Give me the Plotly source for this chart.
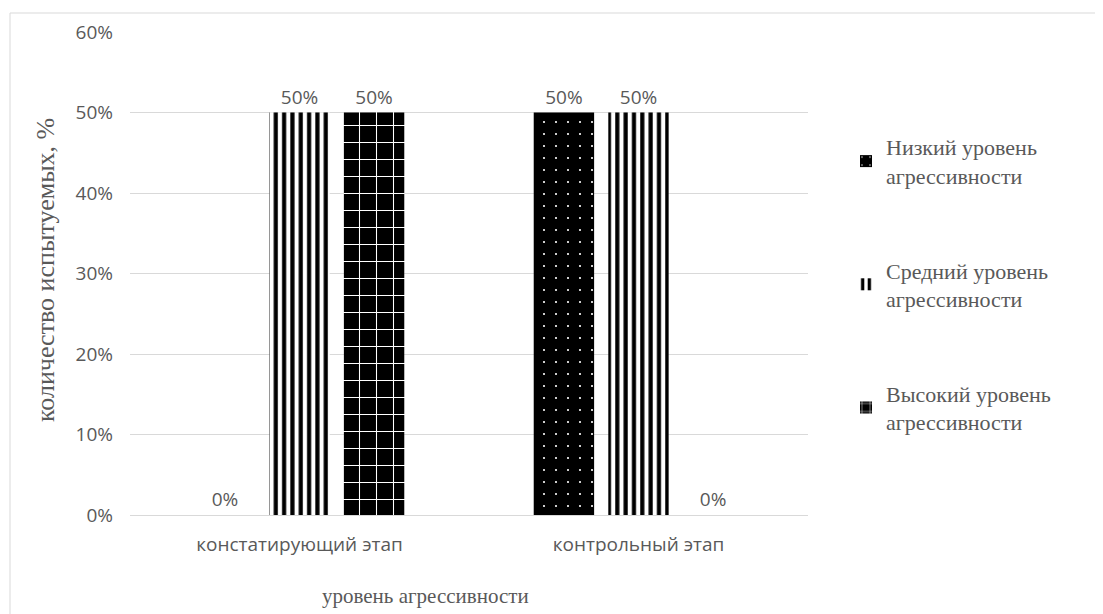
import plotly.graph_objects as go

categories = ["констатирующий этап", "контрольный этап"]
series_names = ["Низкий уровень<br>агрессивности",
                "Средний уровень<br>агрессивности",
                "Высокий уровень<br>агрессивности"]
low_vals = [0.0, 0.5]
mid_vals = [0.5, 0.5]
high_vals = [0.5, 0.0]
y_ticks = [0, 0.1, 0.2, 0.3, 0.4, 0.5, 0.6]
y_ticklabels = ["0%", "10%", "20%", "30%", "40%", "50%", "60%"]

GRAY = "#595959"
TICKFONT = dict(family="Open Sans", size=19, color=GRAY)
SERIF = "Liberation Serif"

# page offset (body margin) ~8px
W, H = 1095, 606
PL, PR, PT, PB = 122, 800, 24, 507  # plot area in figure px
PW, PH = PR - PL, PB - PT


def px2x(px):
    return (px - 8 - PL) / PW


def px2y(py):
    return (PB - (py - 8)) / PH


patterns = [
    dict(shape=".", bgcolor="black", fgcolor="white", size=12, solidity=0.025, fillmode="replace"),
    dict(shape="|", bgcolor="white", fgcolor="black", size=8.33, solidity=0.5, fillmode="replace"),
    dict(shape="+", bgcolor="black", fgcolor="white", size=17, solidity=0.12, fillmode="replace"),
]

fig = go.Figure()
for i, (name, vals) in enumerate(zip(series_names, [low_vals, mid_vals, high_vals])):
    fig.add_trace(go.Bar(
        x=categories, y=vals, name=name,
        marker=dict(color="black", pattern=patterns[i], line=dict(width=0)),
        texttemplate="%{y:.0%}", textposition="outside",
        textfont=TICKFONT, cliponaxis=False,
        legendgroup=f"g{i}",
    ))

fig.update_layout(
    width=W, height=H,
    margin=dict(l=PL, r=W - PR, t=PT, b=H - PB),
    paper_bgcolor="white", plot_bgcolor="white",
    barmode="group", bargap=0.34, bargroupgap=0.19,
    showlegend=True,
    legend=dict(x=px2x(846), xanchor="left", y=px2y(126), yanchor="top",
                font=dict(family=SERIF, size=22, color=GRAY),
                tracegroupgap=63, itemwidth=30, traceorder="grouped",
                bgcolor="rgba(0,0,0,0)"),
    xaxis=dict(showgrid=False, showline=False, ticks="",
               tickfont=TICKFONT, ticklabelstandoff=16),
    yaxis=dict(range=[0, 0.6], tickvals=y_ticks, ticktext=y_ticklabels,
               showgrid=True, gridcolor="#d9d9d9", gridwidth=1,
               zeroline=True, zerolinecolor="#d9d9d9", zerolinewidth=1,
               showline=False, ticks="", tickfont=TICKFONT, ticklabelstandoff=16),
    annotations=[
        dict(text="уровень агрессивности", xref="paper", yref="paper",
             x=px2x(425), y=px2y(596), xanchor="center", yanchor="middle",
             showarrow=False, font=dict(family=SERIF, size=21, color=GRAY)),
        dict(text="количество испытуемых, %", xref="paper", yref="paper",
             x=px2x(45), y=px2y(270), xanchor="center", yanchor="middle",
             textangle=-90, showarrow=False,
             font=dict(family=SERIF, size=26, color=GRAY)),
    ],
    shapes=[dict(type="rect", xref="paper", yref="paper",
                 x0=px2x(10), x1=1.6, y0=-0.3, y1=px2y(13),
                 line=dict(color="#d9d9d9", width=1), fillcolor="rgba(0,0,0,0)", layer="below")],
)

fig.write_html("out.html")
